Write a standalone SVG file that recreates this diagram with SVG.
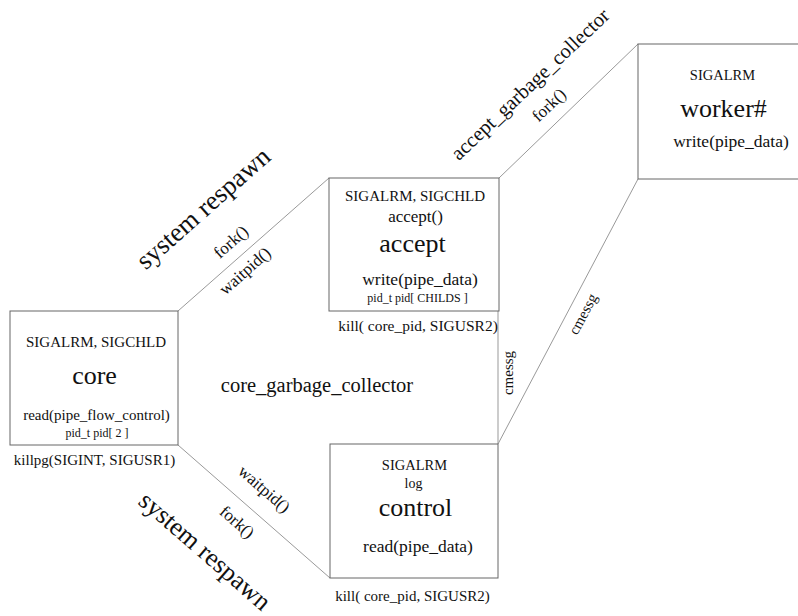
<svg xmlns="http://www.w3.org/2000/svg" width="798" height="616" viewBox="0 0 798 616">
<style>
  text { font-family: "Liberation Serif", "Times New Roman", serif; fill: #111; text-anchor: middle; }
  .box { fill: #fff; stroke: #666; stroke-width: 1; }
  .conn { stroke: #999; stroke-width: 1; fill: none; }
  .s12 { font-size: 12px; }
  .s15 { font-size: 15px; }
  .s17 { font-size: 17.5px; }
  .s26 { font-size: 26px; }
  .lab { dominant-baseline: central; }
</style>
<rect width="798" height="616" fill="#fff"/>
<g id="connectors">
  <line class="conn" x1="178" y1="311" x2="329" y2="178"/>
  <line class="conn" x1="178" y1="445" x2="330" y2="578"/>
  <line class="conn" x1="499" y1="178" x2="638" y2="44"/>
  <line class="conn" x1="638" y1="179" x2="498" y2="444"/>
  <line class="conn" x1="498" y1="311" x2="498" y2="444"/>
  <text class="lab" font-size="26.5" transform="translate(203,208) rotate(-41.5)">system respawn</text>
  <text class="lab" font-size="17" transform="translate(231,242) rotate(-41.5)">fork()</text>
  <text class="lab" font-size="17" transform="translate(245,271) rotate(-41.5)">waitpid()</text>
  <text class="lab" font-size="17" transform="translate(264,489) rotate(41)">waitpid()</text>
  <text class="lab" font-size="17" transform="translate(237,522) rotate(41)">fork()</text>
  <text class="lab" font-size="26" transform="translate(205,551) rotate(41)">system respawn</text>
  <text class="lab" font-size="20.5" transform="translate(530,84) rotate(-43.5)">accept_garbage_collector</text>
  <text class="lab" font-size="17" transform="translate(549,105) rotate(-43.5)">fork()</text>
  <text class="lab" font-size="15" transform="translate(583,314) rotate(-62)">cmessg</text>
  <text class="lab" font-size="15" transform="translate(508,373) rotate(-90)">cmessg</text>
  <text x="317" y="392" font-size="20.5">core_garbage_collector</text>
</g>
<g id="core">
  <rect class="box" x="10" y="311" width="168" height="134"/>
  <text class="s15" x="96" y="347">SIGALRM, SIGCHLD</text>
  <text class="s26" x="94.5" y="384">core</text>
  <text class="s15" x="96.5" y="420">read(pipe_flow_control)</text>
  <text class="s12" x="97" y="437">pid_t pid[ 2 ]</text>
  <text class="s15" x="94.5" y="465">killpg(SIGINT, SIGUSR1)</text>
</g>
<g id="accept">
  <rect class="box" x="329" y="178" width="170" height="133"/>
  <text class="s15" x="415" y="201">SIGALRM, SIGCHLD</text>
  <text x="415.5" y="222" font-size="17">accept()</text>
  <text class="s26" x="412.5" y="252">accept</text>
  <text class="s17" x="420" y="285">write(pipe_data)</text>
  <text class="s12" x="417.5" y="302">pid_t pid[ CHILDS ]</text>
  <text x="418" y="331" font-size="15.5">kill( core_pid, SIGUSR2)</text>
</g>
<g id="worker">
  <rect class="box" x="638" y="44" width="170" height="135"/>
  <text x="722.5" y="80" font-size="14.5">SIGALRM</text>
  <text class="s26" x="723.5" y="117">worker#</text>
  <text class="s17" x="731" y="147">write(pipe_data)</text>
</g>
<g id="control">
  <rect class="box" x="330" y="444" width="168" height="134"/>
  <text x="414.5" y="470" font-size="14.5">SIGALRM</text>
  <text x="413.5" y="488" font-size="14">log</text>
  <text class="s26" x="415.5" y="516">control</text>
  <text class="s17" x="418" y="552">read(pipe_data)</text>
  <text class="s15" x="412.5" y="601">kill( core_pid, SIGUSR2)</text>
</g>
</svg>
